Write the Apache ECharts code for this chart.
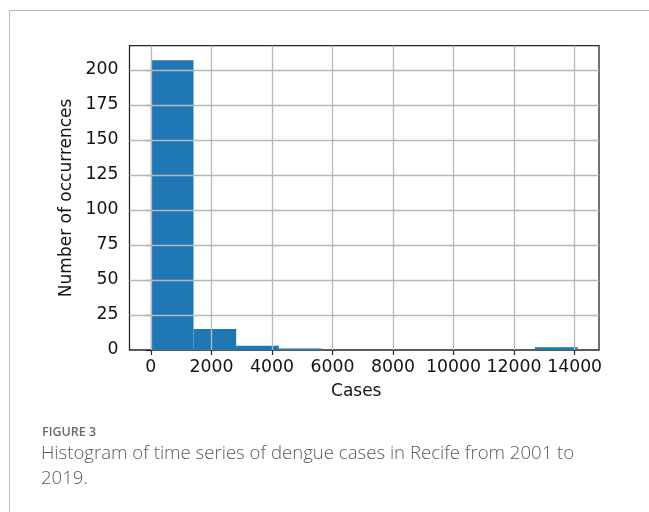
<!DOCTYPE html>
<html>
<head>
<meta charset="utf-8">
<script src="https://cdn.jsdelivr.net/npm/echarts@6/dist/echarts.min.js"></script>
<style>
  html, body { margin: 0; padding: 0; background: #fff; }
  #wrap { position: relative; width: 649px; height: 512px; overflow: hidden; }
  #chart { width: 649px; height: 512px; }
  #frame {
    position: absolute; left: 9px; top: 10px; right: -4px; bottom: -4px;
    border-top: 1.5px solid #b8b8b8; border-left: 1.5px solid #b8b8b8;
    pointer-events: none;
  }
</style>
</head>
<body>
<div id="wrap">
  <div id="chart"></div>
  <div id="frame"></div>
</div>
<script>
// Histogram of monthly dengue cases (10 equal-width bins)
const binStart = 0;
const binWidth = 1410;
const binCounts = [207, 15, 3, 1, 0, 0, 0, 0, 0, 2];

// Axis ticks
const xTicks = [0, 2000, 4000, 6000, 8000, 10000, 12000, 14000];
const yTicks = [0, 25, 50, 75, 100, 125, 150, 175, 200];
const xRange = [-705, 14805];
const yRange = [0, 217.35];

const xName = 'Cases';
const yName = 'Number of occurrences';
const figLabel = 'FIGURE 3';
const captionLines = [
  'Histogram of time series of dengue cases in Recife from 2001 to',
  '2019.'
];

const bins = binCounts.map((c, i) => [binStart + i * binWidth, binStart + (i + 1) * binWidth, c]);

const axisFont = 'DejaVu Sans';
const inkColor = '#141414';
const gridColor = '#b8b8b8';
const plainNumber = v => String(v);

const chart = echarts.init(document.getElementById('chart'), null, { renderer: 'canvas' });

chart.setOption({
  animation: false,
  backgroundColor: '#ffffff',
  grid: {
    left: 129.5, right: 50, top: 45.7, bottom: 162,
    show: true, borderColor: '#262626', borderWidth: 1.3, backgroundColor: 'transparent'
  },
  xAxis: {
    type: 'value',
    min: xRange[0], max: xRange[1],
    name: xName, nameLocation: 'middle', nameGap: 33,
    nameTextStyle: { fontFamily: axisFont, fontSize: 17, color: inkColor, padding: [0, 16, 0, 0] },
    axisLine: { show: false },
    axisTick: { show: true, length: 5, customValues: xTicks, lineStyle: { color: '#262626', width: 1.2 } },
    axisLabel: { customValues: xTicks, formatter: plainNumber, margin: 9, fontFamily: axisFont, fontSize: 17.3, color: inkColor },
    splitLine: { show: false }
  },
  yAxis: {
    type: 'value',
    min: yRange[0], max: yRange[1],
    name: yName, nameLocation: 'middle', nameGap: 50,
    nameTextStyle: { fontFamily: axisFont, fontSize: 17, color: inkColor },
    axisLine: { show: false },
    axisTick: { show: true, length: 5, customValues: yTicks, lineStyle: { color: '#262626', width: 1.2 } },
    axisLabel: { customValues: yTicks, formatter: plainNumber, margin: 11, fontFamily: axisFont, fontSize: 17.3, color: inkColor },
    splitLine: { show: false }
  },
  series: [
    {
      type: 'custom',
      name: 'bins',
      data: bins,
      encode: { x: [0, 1], y: 2 },
      z: 2,
      renderItem: function (params, api) {
        const topLeft = api.coord([api.value(0), api.value(2)]);
        const bottomRight = api.coord([api.value(1), 0]);
        return {
          type: 'rect',
          shape: {
            x: topLeft[0], y: topLeft[1],
            width: bottomRight[0] - topLeft[0],
            height: bottomRight[1] - topLeft[1]
          },
          style: { fill: '#1f77b4' }
        };
      }
    },
    {
      // grid lines, drawn above the bars
      type: 'line',
      data: [],
      z: 5,
      silent: true,
      markLine: {
        silent: true,
        symbol: ['none', 'none'],
        label: { show: false },
        animation: false,
        lineStyle: { color: gridColor, width: 1.3, type: 'solid' },
        emphasis: { disabled: true },
        data: xTicks.map(v => ({ xAxis: v }))
          .concat(yTicks.filter(v => v !== 0).map(v => ({ yAxis: v })))
      }
    }
  ],
  graphic: [
    {
      type: 'text', left: 42, top: 426,
      style: { text: figLabel, fontFamily: 'Open Sans', fontWeight: 600, fontSize: 12.5, fill: '#6a6a6a' }
    },
    {
      type: 'text', left: 41, top: 444,
      style: { text: captionLines[0], fontFamily: 'Open Sans', fontWeight: 300, fontSize: 18.6, fill: '#595959' }
    },
    {
      type: 'text', left: 41, top: 469,
      style: { text: captionLines[1], fontFamily: 'Open Sans', fontWeight: 300, fontSize: 18.6, fill: '#595959' }
    }
  ]
});
</script>
</body>
</html>
